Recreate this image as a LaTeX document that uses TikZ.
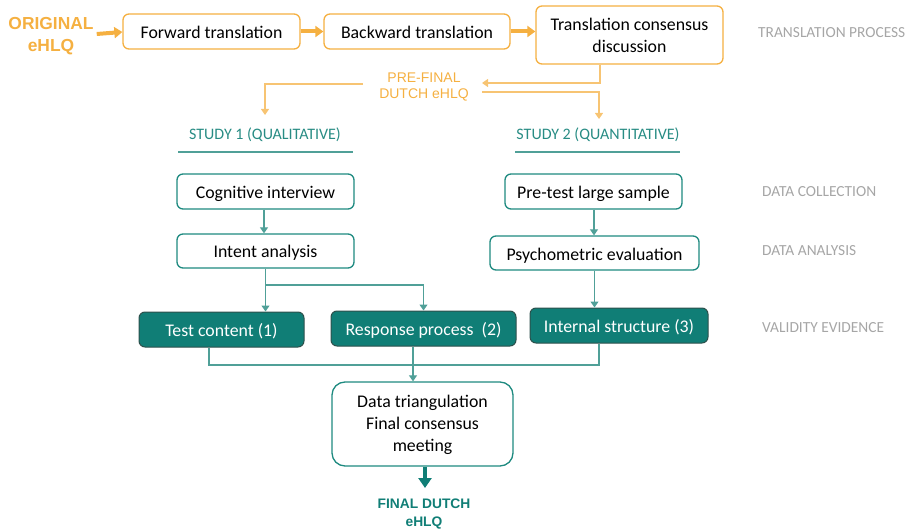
\documentclass[tikz,border=0pt]{standalone}
\usepackage{fontspec}
\setmainfont{Carlito}
\newfontfamily\arialfont{Liberation Sans}
\usetikzlibrary{arrows.meta,positioning}
\definecolor{orng}{RGB}{245,176,65}
\definecolor{orngl}{RGB}{247,196,115}
\definecolor{teal1}{RGB}{16,126,118}
\definecolor{tealb}{RGB}{30,138,128}
\definecolor{teall}{RGB}{80,160,152}
\definecolor{tealtxt}{RGB}{40,140,132}
\definecolor{tealdk}{RGB}{45,80,76}
\definecolor{grylbl}{RGB}{166,166,166}
\tikzset{
  obox/.style={draw=orng, line width=1.3pt, rounded corners=6pt, fill=white, align=center, inner sep=0pt,
    font=\fontsize{17.8}{22}\selectfont},
  tbox/.style={draw=tealb, line width=1.3pt, rounded corners=6pt, fill=white, align=center, inner sep=0pt,
    font=\fontsize{17.8}{22}\selectfont},
  fbox/.style={draw=tealdk, line width=1pt, rounded corners=6pt, fill=teal1, text=white, align=center, inner sep=0pt,
    font=\fontsize{17.8}{22}\selectfont},
  oneline/.style={text height=14pt, text depth=0pt},
  glbl/.style={text=grylbl, anchor=west, inner sep=0pt, font=\fontsize{15.4}{18}\selectfont},
  slbl/.style={text=tealtxt, inner sep=0pt, font=\fontsize{16}{19}\selectfont},
  thickor/.style={draw=orng, line width=4pt, -{Triangle[width=11pt,length=8pt]}},
  thinor/.style={draw=orngl, line width=1.2pt, -{Triangle[width=8pt,length=6pt]}, color=orngl},
  thint/.style={draw=teall, line width=1.2pt, -{Triangle[width=8pt,length=6pt]}, color=teall},
  thintn/.style={draw=teall, line width=1.2pt},
  uline/.style={draw=teall, line width=1.5pt}
}
\begin{document}
\begin{tikzpicture}[x=1pt,y=-1pt]
\useasboundingbox (0,0) rectangle (912,529);
% top row
\node[text=orng, align=center, inner sep=0pt, font=\arialfont\bfseries\fontsize{17.4}{22.5}\selectfont] (orig) at (51,36) {ORIGINAL\\eHLQ};
\node[obox, oneline, minimum width=177pt, minimum height=35pt] (fwd) at (211.5,31.5) {Forward translation};
\node[obox, oneline, minimum width=186pt, minimum height=35pt] (bwd) at (417,31.5) {Backward translation};
\node[obox, minimum width=187pt, minimum height=58pt] (cons) at (629.5,35) {Translation consensus\\discussion};
\node[glbl] (tp) at (758,33) {TRANSLATION PROCESS};
\draw[thickor] ([xshift=3pt,yshift=2pt]orig.east) -- ([yshift=-0.5pt]fwd.west);
\draw[thickor] (fwd.east) -- (bwd.west);
\draw[thickor] (bwd.east) -- (bwd.east -| cons.west);
% pre-final
\node[text=orng, align=center, inner sep=0pt, font=\arialfont\fontsize{14}{16.5}\selectfont] (pf) at (424,87) {PRE-FINAL\\DUTCH eHLQ};
\coordinate (pfR1) at (482,83);
\coordinate (pfR2) at (482,92);
\coordinate (pfL) at (363,84);
\coordinate (s1t) at (265,115);
\coordinate (s2t) at (599,119);
\draw[thinor] ([xshift=-29.5pt]cons.south) |- (pfR1);
\draw[thinor] (pfR2) -| (s2t);
\draw[thinor] (pfL) -| (s1t);
% study labels
\node[slbl] (s1) at (265,135) {STUDY 1 (QUALITATIVE)};
\node[slbl] (s2) at (598,135) {STUDY 2 (QUANTITATIVE)};
\coordinate (u1a) at (178,152); \coordinate (u1b) at (353,152);
\coordinate (u2a) at (515,152); \coordinate (u2b) at (680,152);
\draw[uline] (u1a) -- (u1b);
\draw[uline] (u2a) -- (u2b);
% data collection / analysis
\node[tbox, oneline, minimum width=177pt, minimum height=35pt] (cog) at (265.5,191.5) {Cognitive interview};
\node[tbox, oneline, minimum width=177pt, minimum height=34pt] (intent) at (265.5,251) {Intent analysis};
\node[tbox, oneline, minimum width=177pt, minimum height=35pt] (pre) at (593.5,191.5) {Pre-test large sample};
\node[tbox, oneline, minimum width=209pt, minimum height=34pt] (psy) at (594.5,253) {Psychometric evaluation};
\node[glbl] (dc) at (762,192) {DATA COLLECTION};
\node[glbl] (da) at (762,251) {DATA ANALYSIS};
\node[glbl] (ve) at (762,328) {VALIDITY EVIDENCE};
\draw[thint] ([xshift=-1.5pt]cog.south) -- ([xshift=-1.5pt]intent.north);
\draw[thint] ([xshift=0.5pt]pre.south) -- ([xshift=-0.5pt]psy.north);
% validity evidence
\node[fbox, oneline, minimum width=165pt, minimum height=35pt] (tc) at (221.5,329.5) {Test content (1)};
\node[fbox, oneline, minimum width=185pt, minimum height=35pt] (rp) at (423.5,328.5) {Response process\ \ (2)};
\node[fbox, oneline, minimum width=178pt, minimum height=35pt] (is) at (619,325.5) {Internal structure (3)};
\coordinate (br) at (266,285);
\draw[thint] (intent.south) -- (intent.south |- tc.north);
\draw[thint] (br) -| (rp.north);
\draw[thint] (psy.south) -- (psy.south |- is.north);
% merge
\coordinate (mj) at (413,365);
\node[tbox, rounded corners=13pt, minimum width=181pt, minimum height=84pt] (tri) at (422.5,424) {\rule{0pt}{15pt}Data triangulation\\Final consensus\\meeting};
\draw[thintn] ([xshift=-12.5pt]tc.south) |- (mj);
\draw[thintn] ([xshift=-20pt]is.south) |- (mj);
\draw[thint] (rp.south -| mj) -- (mj |- tri.north);
% final
\node[text=teal1, align=center, inner sep=0pt, font=\arialfont\bfseries\fontsize{13.8}{18}\selectfont] (fin) at (424,514) {FINAL DUTCH\\eHLQ};
\coordinate (fint) at (425,488);
\draw[draw=teal1, line width=4pt, -{Triangle[width=13pt,length=10pt]}, color=teal1] ([xshift=2.5pt]tri.south) -- (fint);
\end{tikzpicture}
\end{document}
